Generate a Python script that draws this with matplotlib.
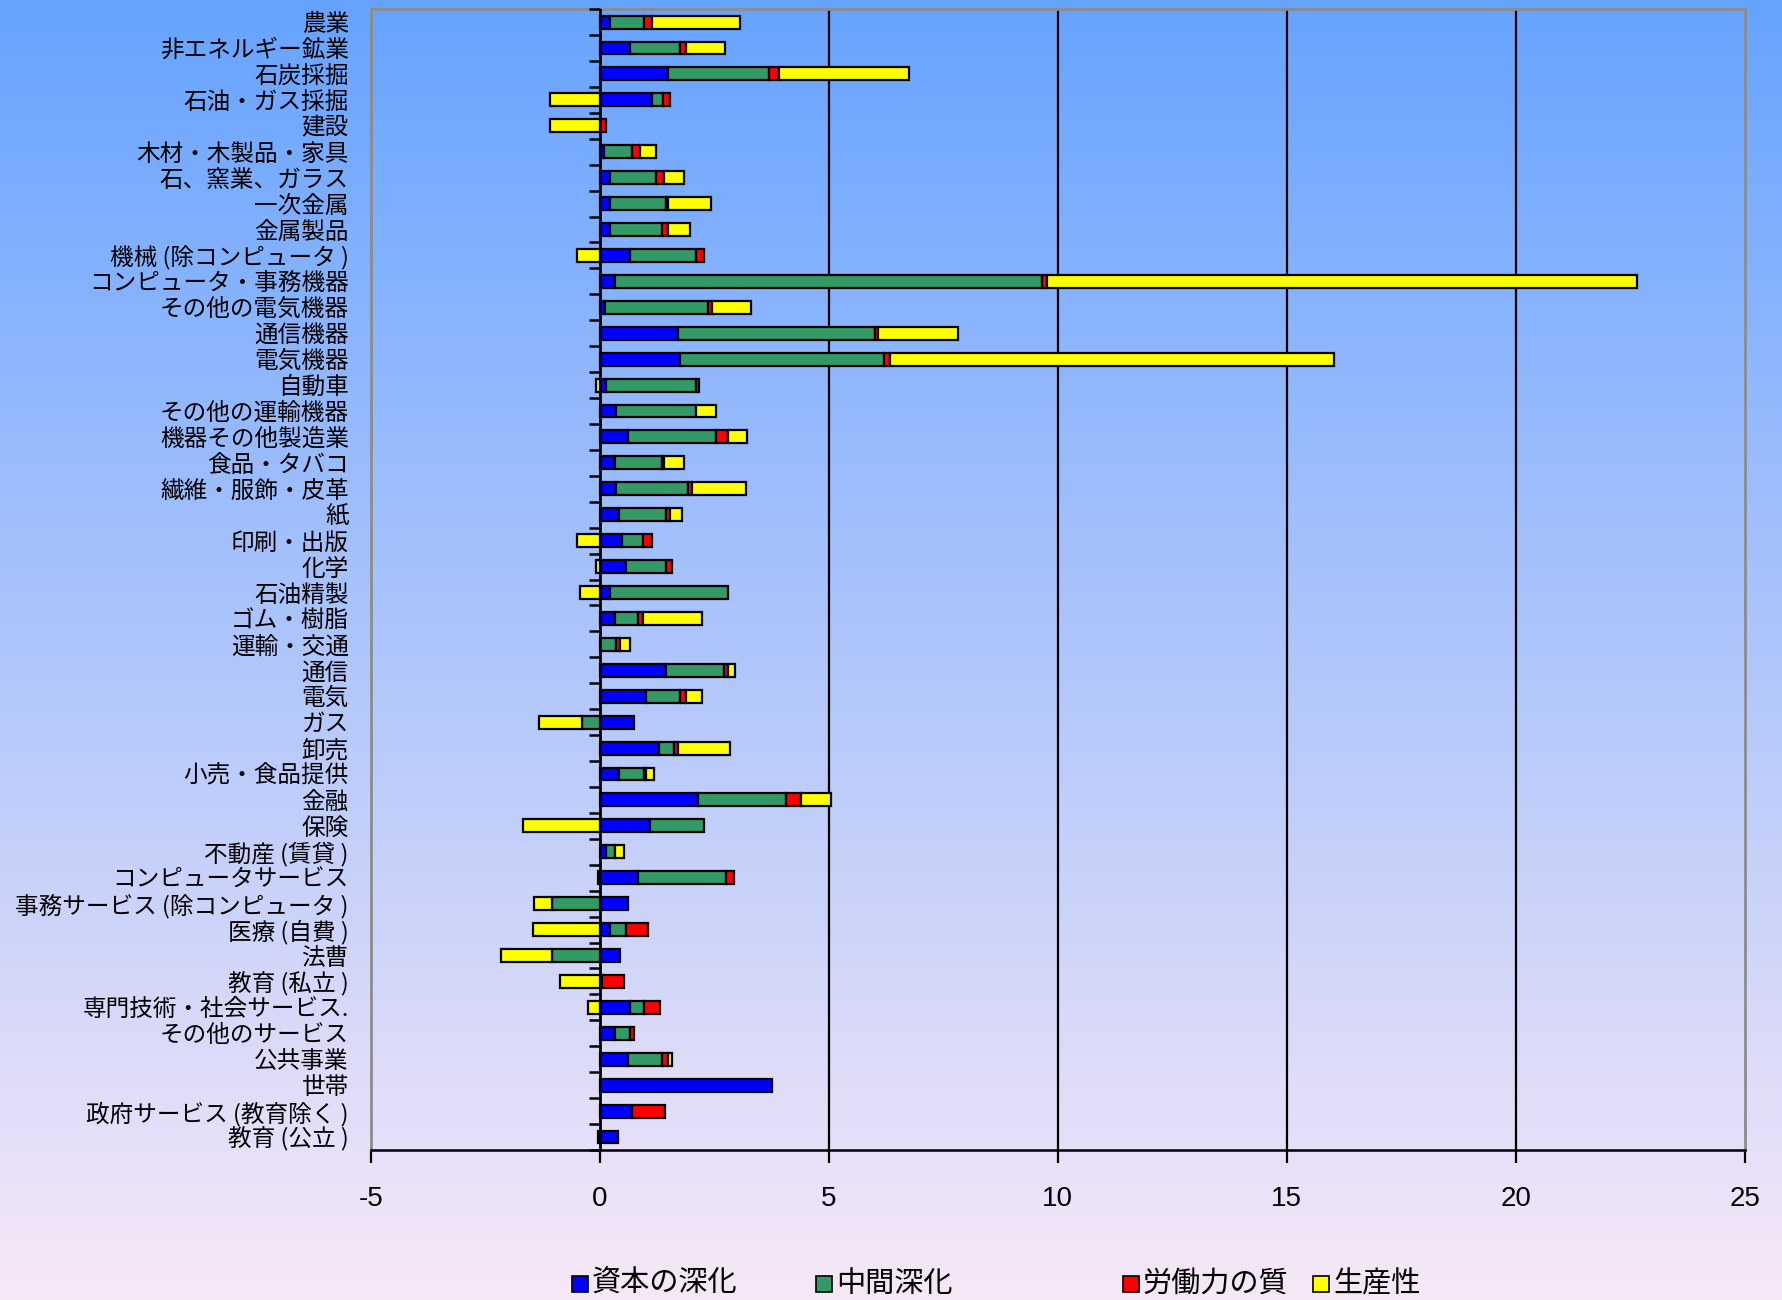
import numpy as np
import matplotlib
matplotlib.use("Agg")
import matplotlib.pyplot as plt
from matplotlib.patches import Rectangle

plt.rcParams['font.family'] = ['Noto Sans CJK JP', 'DejaVu Sans']

categories = [
    "農業", "非エネルギー鉱業", "石炭採掘", "石油・ガス採掘", "建設",
    "木材・木製品・家具", "石、窯業、ガラス", "一次金属", "金属製品",
    "機械 (除コンピュータ )", "コンピュータ・事務機器", "その他の電気機器",
    "通信機器", "電気機器", "自動車", "その他の運輸機器", "機器その他製造業",
    "食品・タバコ", "繊維・服飾・皮革", "紙", "印刷・出版", "化学", "石油精製",
    "ゴム・樹脂", "運輸・交通", "通信", "電気", "ガス", "卸売", "小売・食品提供",
    "金融", "保険", "不動産 (賃貸 )", "コンピュータサービス",
    "事務サービス (除コンピュータ )", "医療 (自費 )", "法曹", "教育 (私立 )",
    "専門技術・社会サービス.", "その他のサービス", "公共事業", "世帯",
    "政府サービス (教育除く )", "教育 (公立 )",
]

capital_deepening = [
    0.22, 0.65, 1.49, 1.14, 0.00, 0.09, 0.22, 0.22, 0.22, 0.66, 0.32, 0.10,
    1.71, 1.75, 0.14, 0.36, 0.62, 0.32, 0.36, 0.41, 0.49, 0.58, 0.23, 0.32,
    0.00, 1.45, 1.01, 0.75, 1.28, 0.41, 2.14, 1.10, 0.14, 0.83, 0.62, 0.22,
    0.44, 0.05, 0.66, 0.32, 0.62, 3.75, 0.71, 0.40,
]
intermediate_deepening = [
    0.74, 1.10, 2.21, 0.24, 0.00, 0.62, 1.00, 1.23, 1.14, 1.44, 9.33, 2.26,
    4.30, 4.45, 1.95, 1.74, 1.92, 1.04, 1.56, 1.03, 0.44, 0.86, 2.56, 0.52,
    0.36, 1.25, 0.74, -0.39, 0.34, 0.56, 1.92, 1.17, 0.18, 1.92, -1.04, 0.35,
    -1.04, 0.00, 0.30, 0.33, 0.74, 0.00, 0.00, 0.00,
]
labor_quality = [
    0.18, 0.13, 0.22, 0.14, 0.14, 0.17, 0.18, 0.04, 0.13, 0.17, 0.11, 0.08,
    0.06, 0.13, 0.08, 0.00, 0.25, 0.05, 0.09, 0.09, 0.20, 0.13, 0.00, 0.09,
    0.08, 0.09, 0.13, 0.00, 0.09, 0.04, 0.34, 0.00, 0.00, 0.17, 0.00, 0.48,
    0.00, 0.47, 0.35, 0.09, 0.13, 0.00, 0.72, -0.04,
]
productivity = [
    1.91, 0.86, 2.83, -1.09, -1.09, 0.34, 0.43, 0.94, 0.47, -0.51, 12.89, 0.87,
    1.76, 9.70, -0.09, 0.43, 0.43, 0.42, 1.17, 0.26, -0.51, -0.09, -0.43, 1.29,
    0.22, 0.17, 0.34, -0.95, 1.12, 0.16, 0.65, -1.69, 0.20, -0.04, -0.40, -1.47,
    -1.13, -0.87, -0.26, 0.00, 0.08, 0.00, 0.00, 0.00,
]

series_names = ["資本の深化", "中間深化", "労働力の質", "生産性"]
series_colors = ["#0000ff", "#339966", "#ff0000", "#ffff00"]
x_ticks = [-5, 0, 5, 10, 15, 20, 25]

series = [capital_deepening, intermediate_deepening, labor_quality, productivity]

fig = plt.figure(figsize=(17.82, 13.0), dpi=100)

# vertical background gradient over the whole figure
bg = fig.add_axes([0, 0, 1, 1], zorder=-10)
top = np.array([0.40, 0.64, 1.00])
bottom = np.array([0.97, 0.91, 0.97])
t = np.linspace(0, 1, 512)[:, None]
grad = top * (1 - t) + bottom * t
bg.imshow(grad[:, None, :], aspect="auto", extent=[0, 1, 0, 1])
bg.set_axis_off()

ax = fig.add_axes([0.2082, 0.1154, 0.7708, 0.8776])
ax.patch.set_alpha(0)

n = len(categories)
y = np.arange(n)
pos_left = np.zeros(n)
neg_left = np.zeros(n)
for vals, color, name in zip(series, series_colors, series_names):
    v = np.asarray(vals, dtype=float)
    left = np.where(v >= 0, pos_left, neg_left)
    mask = v != 0
    ax.barh(y[mask], v[mask], left=left[mask], height=0.5, color=color,
            edgecolor="black", linewidth=1.6, zorder=3, label=name)
    pos_left += np.where(v > 0, v, 0)
    neg_left += np.where(v < 0, v, 0)

ax.set_xlim(-5, 25)
ax.set_ylim(n - 0.5, -0.5)

# vertical gridlines
for gx in [5, 10, 15, 20]:
    ax.axvline(gx, color="black", linewidth=1.6, zorder=1)

# category axis at x = 0 with tick marks between categories
ax.axvline(0, color="black", linewidth=2.0, zorder=4)
ax.hlines(np.arange(n + 1) - 0.5, -0.24, 0, color="black", linewidth=1.8,
          zorder=4, clip_on=False)

ax.set_yticks(y)
ax.set_yticklabels(categories, fontsize=17)
ax.tick_params(axis="y", length=0, pad=16)

ax.set_xticks(x_ticks)
ax.set_xticklabels([str(v) for v in x_ticks], fontsize=20,
                   family=["Liberation Sans", "DejaVu Sans"])
ax.tick_params(axis="x", length=9, width=1.6, direction="out", pad=17,
               color="black")

for side in ["top", "right", "left"]:
    ax.spines[side].set_color("#8c8c8c")
    ax.spines[side].set_linewidth(2.0)
ax.spines["bottom"].set_color("black")
ax.spines["bottom"].set_linewidth(1.8)

# legend row along the bottom edge
legend_x = [572, 816, 1123, 1313]
W, H = 1782.0, 1300.0
for lx, name, color in zip(legend_x, series_names, series_colors):
    fig.patches.append(Rectangle((lx / W, 1 - 1292 / H), 16 / W, 16 / H,
                                 transform=fig.transFigure, facecolor=color,
                                 edgecolor="black", linewidth=1.2))
    fig.text((lx + 20) / W, 1 - 1284 / H, name, fontsize=21,
             va="center", ha="left")

fig.savefig("out.png", dpi=100)
